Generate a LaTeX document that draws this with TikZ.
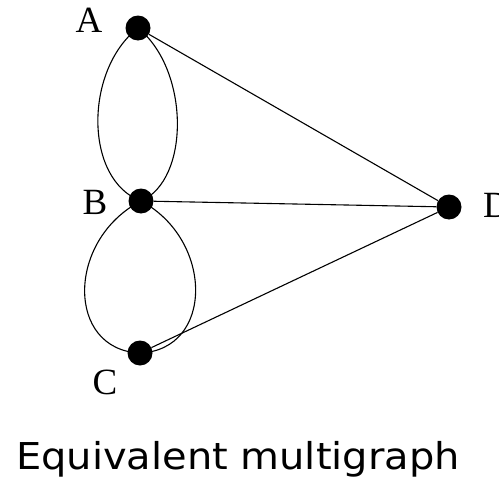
\documentclass[tikz,border=0pt]{standalone}
\usepackage{fontspec}
\setmainfont{Liberation Serif}
\newfontfamily\capfont{DejaVu Sans}
\begin{document}
\begin{tikzpicture}[x=1pt,y=-1pt,
  vtx/.style={circle,fill=black,inner sep=0pt,minimum size=25pt},
  lbl/.style={font=\fontsize{37}{37}\selectfont,inner sep=0pt},
  edge/.style={black,line width=1.1pt}]
\useasboundingbox (0,0) rectangle (499,482);
\node[vtx] (A) at (138,28) {};
\node[vtx] (B) at (141,201) {};
\node[vtx] (C) at (140,353) {};
\node[vtx] (D) at (449,207) {};
\node[lbl] (lA) at (89,20) {A};
\node[lbl] (lB) at (95,202) {B};
\node[lbl] (lC) at (105,382) {C};
\node[lbl,anchor=west] (lD) at (483,205) {D};
\draw[edge] (A.center) .. controls (84,70) and (84,180) .. (B.center);
\draw[edge] (A.center) .. controls (190,70) and (190,180) .. (B.center);
\draw[edge] (B.center) .. controls (66,240) and (66,350) .. (C.center);
\draw[edge] (B.center) .. controls (214,240) and (214,350) .. (C.center);
\draw[edge] (A) -- (D);
\draw[edge] (B) -- (D);
\draw[edge] (C) -- (D);
\node[font=\capfont\fontsize{37}{37}\selectfont,inner sep=0pt,anchor=base,xscale=1.08] (cap) at (238,469) {Equivalent multigraph};
\end{tikzpicture}
\end{document}
